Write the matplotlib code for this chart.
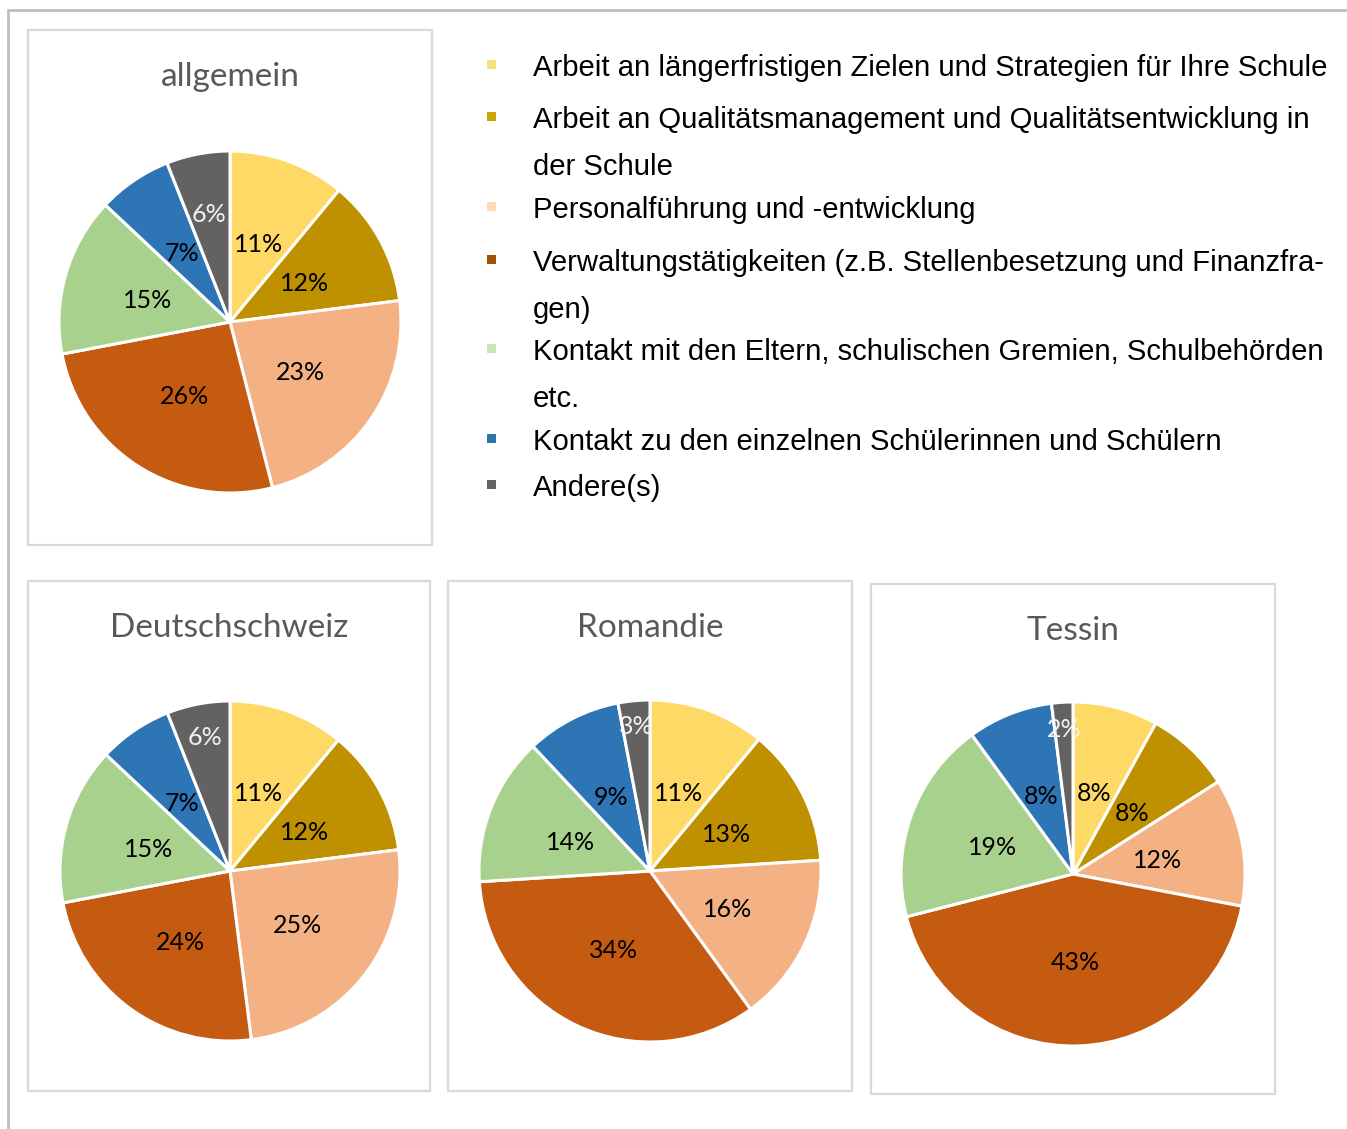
import matplotlib
matplotlib.use('Agg')
import matplotlib.pyplot as plt
from matplotlib.patches import Rectangle
import numpy as np

W, H = 1347, 1129

categories = [
    "Arbeit an längerfristigen Zielen und Strategien für Ihre Schule",
    "Arbeit an Qualitätsmanagement und Qualitätsentwicklung in\nder Schule",
    "Personalführung und -entwicklung",
    "Verwaltungstätigkeiten (z.B. Stellenbesetzung und Finanzfra-\ngen)",
    "Kontakt mit den Eltern, schulischen Gremien, Schulbehörden\netc.",
    "Kontakt zu den einzelnen Schülerinnen und Schülern",
    "Andere(s)",
]
regions = ["allgemein", "Deutschschweiz", "Romandie", "Tessin"]
allgemein = [11, 12, 23, 26, 15, 7, 6]
deutschschweiz = [11, 12, 25, 24, 15, 7, 6]
romandie = [11, 13, 16, 34, 14, 9, 3]
tessin = [8, 8, 12, 43, 19, 8, 2]
region_values = [allgemein, deutschschweiz, romandie, tessin]

pie_colors = ["#FFD966", "#BF9000", "#F4B183", "#C55A11", "#A9D18E", "#2E75B6", "#636161"]
legend_colors = ["#F5E27E", "#C9A50A", "#FFD9B3", "#A0520A", "#C6E6B3", "#2E75A8", "#636363"]

# layout in pixel coords (x, y from top-left)
boxes = [(28, 30, 432, 545), (28, 581, 430, 1091), (448, 581, 852, 1091), (871, 584, 1275, 1094)]
centers = [(230, 322, 171), (230, 871, 170), (650, 871, 171), (1073, 874, 172)]
title_y = [77, 628, 628, 631]
small_dist = [0.64, 0.80, 0.85, 0.84]

fig = plt.figure(figsize=(W / 100, H / 100), dpi=100)
fig.patch.set_facecolor("white")


def fx(x):
    return x / W


def fy(y):
    return 1 - y / H


# outer frame
fig.add_artist(Rectangle((fx(8), fy(1200)), fx(1400), 1190 / H, transform=fig.transFigure,
                         fill=False, ec="#BFBFBF", lw=2))

for (x0, y0, x1, y1), (cx, cy, r), ty, name, vals, sd in zip(boxes, centers, title_y, regions,
                                                           region_values, small_dist):
    fig.add_artist(Rectangle((fx(x0), fy(y1)), fx(x1 - x0), (y1 - y0) / H, transform=fig.transFigure,
                             fill=False, ec="#D9D9D9", lw=1.6))
    fig.text(fx((x0 + x1) / 2), fy(ty), name, ha="center", va="center", fontsize=24,
             family="Lato", color="#595959")
    ax = fig.add_axes([fx(cx - r), fy(cy + r), 2 * r / W, 2 * r / H])
    wedges, texts, autotexts = ax.pie(
        vals, colors=pie_colors, startangle=90, counterclock=False, radius=1,
        wedgeprops=dict(edgecolor="white", linewidth=2.2),
        autopct=lambda p: f"{p:.0f}%", pctdistance=0.5,
        textprops=dict(family="Lato", fontsize=18, color="black"))
    for t in autotexts:
        x, y = t.get_position()
        t.set_position((x, y - 0.015))
    # last (smallest grey) slice label: white and further out
    w = wedges[-1]
    mid = np.deg2rad((w.theta1 + w.theta2) / 2)
    autotexts[-1].set_position((sd * np.cos(mid), sd * np.sin(mid)))
    autotexts[-1].set_color("#F2F2F2")
    ax.set_xlim(-1, 1)
    ax.set_ylim(-1, 1)
    ax.set_aspect("equal")
    ax.axis("off")

# legend
legend_y = [66, 118, 208, 261, 350, 440, 486]
for cat, col, y in zip(categories, legend_colors, legend_y):
    fig.add_artist(Rectangle((fx(487), fy(y + 2.5)), 9 / W, 9 / H, transform=fig.transFigure,
                             fc=col, ec="none"))
    for i, line in enumerate(cat.split("\n")):
        fig.text(fx(533), fy(y + 2 + 47 * i), line, ha="left", va="center", fontsize=21.1,
                 family="Liberation Sans", color="black")

fig.savefig("out.png", dpi=100, facecolor="white")
